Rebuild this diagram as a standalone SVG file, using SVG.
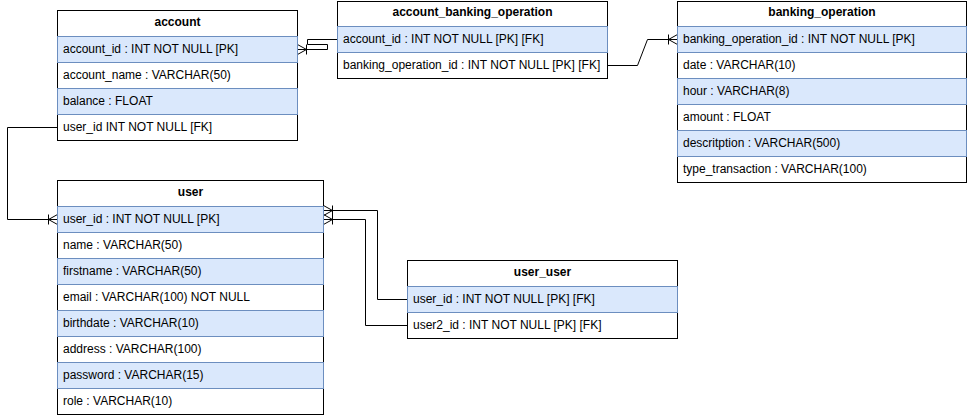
<svg xmlns="http://www.w3.org/2000/svg" width="968" height="418" viewBox="0 0 968 418">
<style>
text{font-family:"Liberation Sans",Arial,Helvetica,sans-serif;font-size:12px;fill:#000}
.h{font-weight:bold;text-anchor:middle}
.tb{fill:#fff;stroke:#000;stroke-width:1}
.w{fill:#fff;stroke:#000;stroke-width:1}
.b{fill:#dae8fc;stroke:#6c8ebf;stroke-width:1}
.c{fill:none;stroke:#000;stroke-width:1}
</style>
<defs>
<marker id="otm" viewBox="0 0 12 12" refX="12" refY="6" markerWidth="12" markerHeight="12" markerUnits="userSpaceOnUse" orient="auto">
<path d="M12,1 L3,6 L12,11 M3,6 H12 M3,1 V11" fill="none" stroke="#000" stroke-width="1"/>
</marker>
</defs>
<g id="connectors">
<path class="c" d="M337.5,39.5 H307.5 V44.5 H327.5 V49.5 H297.5" marker-end="url(#otm)"/>
<path class="c" d="M607.5,65.5 H637.5 L647.5,39.5 H677.5" marker-end="url(#otm)"/>
<path class="c" d="M57.5,127.5 H7.5 V219.5 H57.5" marker-end="url(#otm)"/>
<path class="c" d="M407.5,299.5 H377.5 V210.5 H323.5" marker-end="url(#otm)"/>
<path class="c" d="M407.5,325.5 H365.5 V219.5 H323.5" marker-end="url(#otm)"/>
</g>
<g id="account">
<rect class="tb" x="57.5" y="10.5" width="240" height="130"/>
<text class="h" x="177.5" y="25.5">account</text>
<rect class="w" x="57.5" y="62.5" width="240" height="26"/>
<rect class="w" x="57.5" y="114.5" width="240" height="26"/>
<rect class="b" x="57.5" y="36.5" width="240" height="26"/>
<rect class="b" x="57.5" y="88.5" width="240" height="26"/>
<text x="63" y="53">account_id : INT NOT NULL [PK]</text>
<text x="63" y="79">account_name : VARCHAR(50)</text>
<text x="63" y="105">balance : FLOAT</text>
<text x="63" y="131">user_id INT NOT NULL [FK]</text>
</g>
<g id="account_banking_operation">
<rect class="tb" x="337.5" y="1.5" width="270" height="77"/>
<text class="h" x="472.5" y="16">account_banking_operation</text>
<rect class="w" x="337.5" y="52.5" width="270" height="26"/>
<rect class="b" x="337.5" y="26.5" width="270" height="26"/>
<text x="343" y="43">account_id : INT NOT NULL [PK] [FK]</text>
<text x="343" y="69">banking_operation_id : INT NOT NULL [PK] [FK]</text>
</g>
<g id="banking_operation">
<rect class="tb" x="677.5" y="1.5" width="289" height="181"/>
<text class="h" x="822" y="16">banking_operation</text>
<rect class="w" x="677.5" y="52.5" width="289" height="26"/>
<rect class="w" x="677.5" y="104.5" width="289" height="26"/>
<rect class="w" x="677.5" y="156.5" width="289" height="26"/>
<rect class="b" x="677.5" y="26.5" width="289" height="26"/>
<rect class="b" x="677.5" y="78.5" width="289" height="26"/>
<rect class="b" x="677.5" y="130.5" width="289" height="26"/>
<text x="683" y="43">banking_operation_id : INT NOT NULL [PK]</text>
<text x="683" y="69">date : VARCHAR(10)</text>
<text x="683" y="95">hour : VARCHAR(8)</text>
<text x="683" y="121">amount : FLOAT</text>
<text x="683" y="147">descritption : VARCHAR(500)</text>
<text x="683" y="173">type_transaction : VARCHAR(100)</text>
</g>
<g id="user">
<rect class="tb" x="57.5" y="180.5" width="266" height="234"/>
<text class="h" x="190.5" y="195.5">user</text>
<rect class="w" x="57.5" y="232.5" width="266" height="26"/>
<rect class="w" x="57.5" y="284.5" width="266" height="26"/>
<rect class="w" x="57.5" y="336.5" width="266" height="26"/>
<rect class="w" x="57.5" y="388.5" width="266" height="26"/>
<rect class="b" x="57.5" y="206.5" width="266" height="26"/>
<rect class="b" x="57.5" y="258.5" width="266" height="26"/>
<rect class="b" x="57.5" y="310.5" width="266" height="26"/>
<rect class="b" x="57.5" y="362.5" width="266" height="26"/>
<text x="63" y="223">user_id : INT NOT NULL [PK]</text>
<text x="63" y="249">name : VARCHAR(50)</text>
<text x="63" y="275">firstname : VARCHAR(50)</text>
<text x="63" y="301">email : VARCHAR(100) NOT NULL</text>
<text x="63" y="327">birthdate : VARCHAR(10)</text>
<text x="63" y="353">address : VARCHAR(100)</text>
<text x="63" y="379">password : VARCHAR(15)</text>
<text x="63" y="405">role : VARCHAR(10)</text>
</g>
<g id="user_user">
<rect class="tb" x="407.5" y="260.5" width="270" height="78"/>
<text class="h" x="542.5" y="275.5">user_user</text>
<rect class="w" x="407.5" y="312.5" width="270" height="26"/>
<rect class="b" x="407.5" y="286.5" width="270" height="26"/>
<text x="413" y="303">user_id : INT NOT NULL [PK] [FK]</text>
<text x="413" y="329">user2_id : INT NOT NULL [PK] [FK]</text>
</g>
</svg>
